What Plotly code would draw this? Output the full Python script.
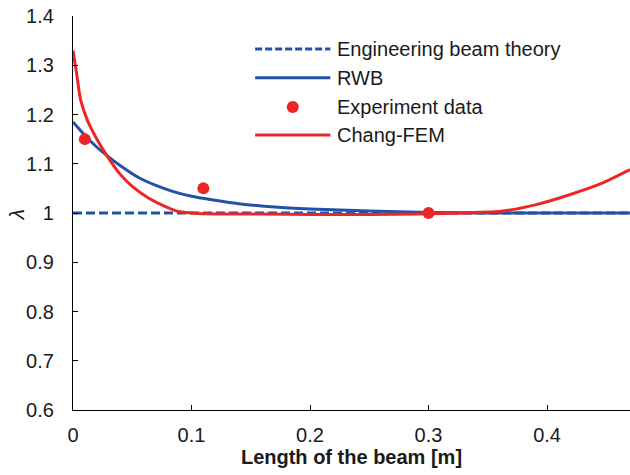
import plotly.graph_objects as go

# Beam length positions [m] and the corresponding lambda values
theory_x = [0.0, 0.47]
theory_y = [1.0, 1.0]

rwb_x = [0.0, 0.01, 0.02, 0.03, 0.04, 0.056, 0.07, 0.084, 0.10, 0.117, 0.14, 0.17, 0.20, 0.25, 0.30, 0.35, 0.40, 0.47]
rwb_y = [1.185, 1.158, 1.134, 1.114, 1.096, 1.071, 1.056, 1.044, 1.034, 1.027, 1.019, 1.012, 1.008, 1.004, 1.001, 1.000, 1.000, 1.000]

exp_x = [0.01, 0.11, 0.30]
exp_y = [1.15, 1.05, 1.00]

fem_x = [0.0, 0.003, 0.0064, 0.012, 0.019, 0.029, 0.039, 0.050, 0.064, 0.078, 0.089, 0.106, 0.13, 0.16,
         0.20, 0.25, 0.293, 0.33, 0.363, 0.391, 0.419, 0.447, 0.47]
fem_y = [1.330, 1.284, 1.230, 1.189, 1.155, 1.115, 1.081, 1.054, 1.030, 1.013, 1.003, 0.999, 0.998, 0.998,
         0.997, 0.997, 0.998, 1.000, 1.004, 1.017, 1.037, 1.061, 1.088]

series_names = ["Engineering beam theory", "RWB", "Experiment data", "Chang-FEM"]

BLUE = "rgb(35,82,165)"
RED = "rgb(236,38,38)"
FONT = "Liberation Sans, Arial, sans-serif"

fig = go.Figure()
fig.add_trace(go.Scatter(x=theory_x, y=theory_y, mode="lines", name=series_names[0],
                         line=dict(color=BLUE, width=3, dash="9px,4px")))
fig.add_trace(go.Scatter(x=rwb_x, y=rwb_y, mode="lines", name=series_names[1],
                         line=dict(color=BLUE, width=3, shape="spline", smoothing=0.6)))
fig.add_trace(go.Scatter(x=fem_x, y=fem_y, mode="lines", name=series_names[3],
                         line=dict(color=RED, width=3, shape="spline", smoothing=0.6)))
fig.add_trace(go.Scatter(x=exp_x, y=exp_y, mode="markers", name=series_names[2],
                         marker=dict(color=RED, size=12)))

# Hand-drawn legend with long line keys
leg_x0, leg_x1, leg_tx = 0.327, 0.462, 0.471
leg_rows = [0.916, 0.843, 0.769, 0.698]
shapes = [
    dict(type="line", xref="paper", yref="paper", x0=leg_x0, x1=leg_x1, y0=leg_rows[0], y1=leg_rows[0],
         line=dict(color=BLUE, width=3, dash="7px,3px")),
    dict(type="line", xref="paper", yref="paper", x0=leg_x0, x1=leg_x1, y0=leg_rows[1], y1=leg_rows[1],
         line=dict(color=BLUE, width=3)),
    dict(type="line", xref="paper", yref="paper", x0=leg_x0, x1=leg_x1, y0=leg_rows[3], y1=leg_rows[3],
         line=dict(color=RED, width=3)),
]
annotations = [
    dict(xref="paper", yref="paper", x=leg_tx, y=yy, text=name, showarrow=False,
         xanchor="left", yanchor="middle", font=dict(family=FONT, size=20, color="#1a1a1a"))
    for name, yy in zip(series_names, leg_rows)
]
# Y-axis symbol, rotated like an axis title
annotations.append(dict(xref="paper", yref="paper", x=-0.1, y=0.495, text="<i>λ</i>", showarrow=False,
                        textangle=-90, xanchor="center", yanchor="middle",
                        font=dict(family=FONT, size=21, color="#1a1a1a")))
# Marker key for the experiment row
fig.add_trace(go.Scatter(x=[(leg_x0 + leg_x1) / 2], y=[leg_rows[2]], xaxis="x2", yaxis="y2",
                         mode="markers", marker=dict(color=RED, size=12), hoverinfo="skip"))

fig.update_layout(
    width=630, height=475,
    margin=dict(l=73, r=0, t=16, b=65),
    paper_bgcolor="white", plot_bgcolor="white",
    showlegend=False,
    shapes=shapes, annotations=annotations,
    font=dict(family=FONT, size=20, color="#1a1a1a"),
    xaxis=dict(range=[0, 0.47], dtick=0.1, tick0=0, showgrid=False, zeroline=False,
               showline=True, linecolor="black", linewidth=1.3,
               ticks="inside", ticklen=5, tickcolor="black", tickwidth=1.3,
               ticklabelstandoff=7,
               title=dict(text="<b>Length of the beam [m]</b>", font=dict(size=20), standoff=4)),
    yaxis=dict(range=[0.6, 1.4], dtick=0.1, tick0=0.6, showgrid=False, zeroline=False,
               showline=True, linecolor="black", linewidth=1.3,
               ticks="inside", ticklen=5, tickcolor="black", tickwidth=1.3,
               ticklabelstandoff=14),
    xaxis2=dict(range=[0, 1], overlaying="x", visible=False, fixedrange=True),
    yaxis2=dict(range=[0, 1], overlaying="y", visible=False, fixedrange=True),
)

fig.write_html("out.html")
